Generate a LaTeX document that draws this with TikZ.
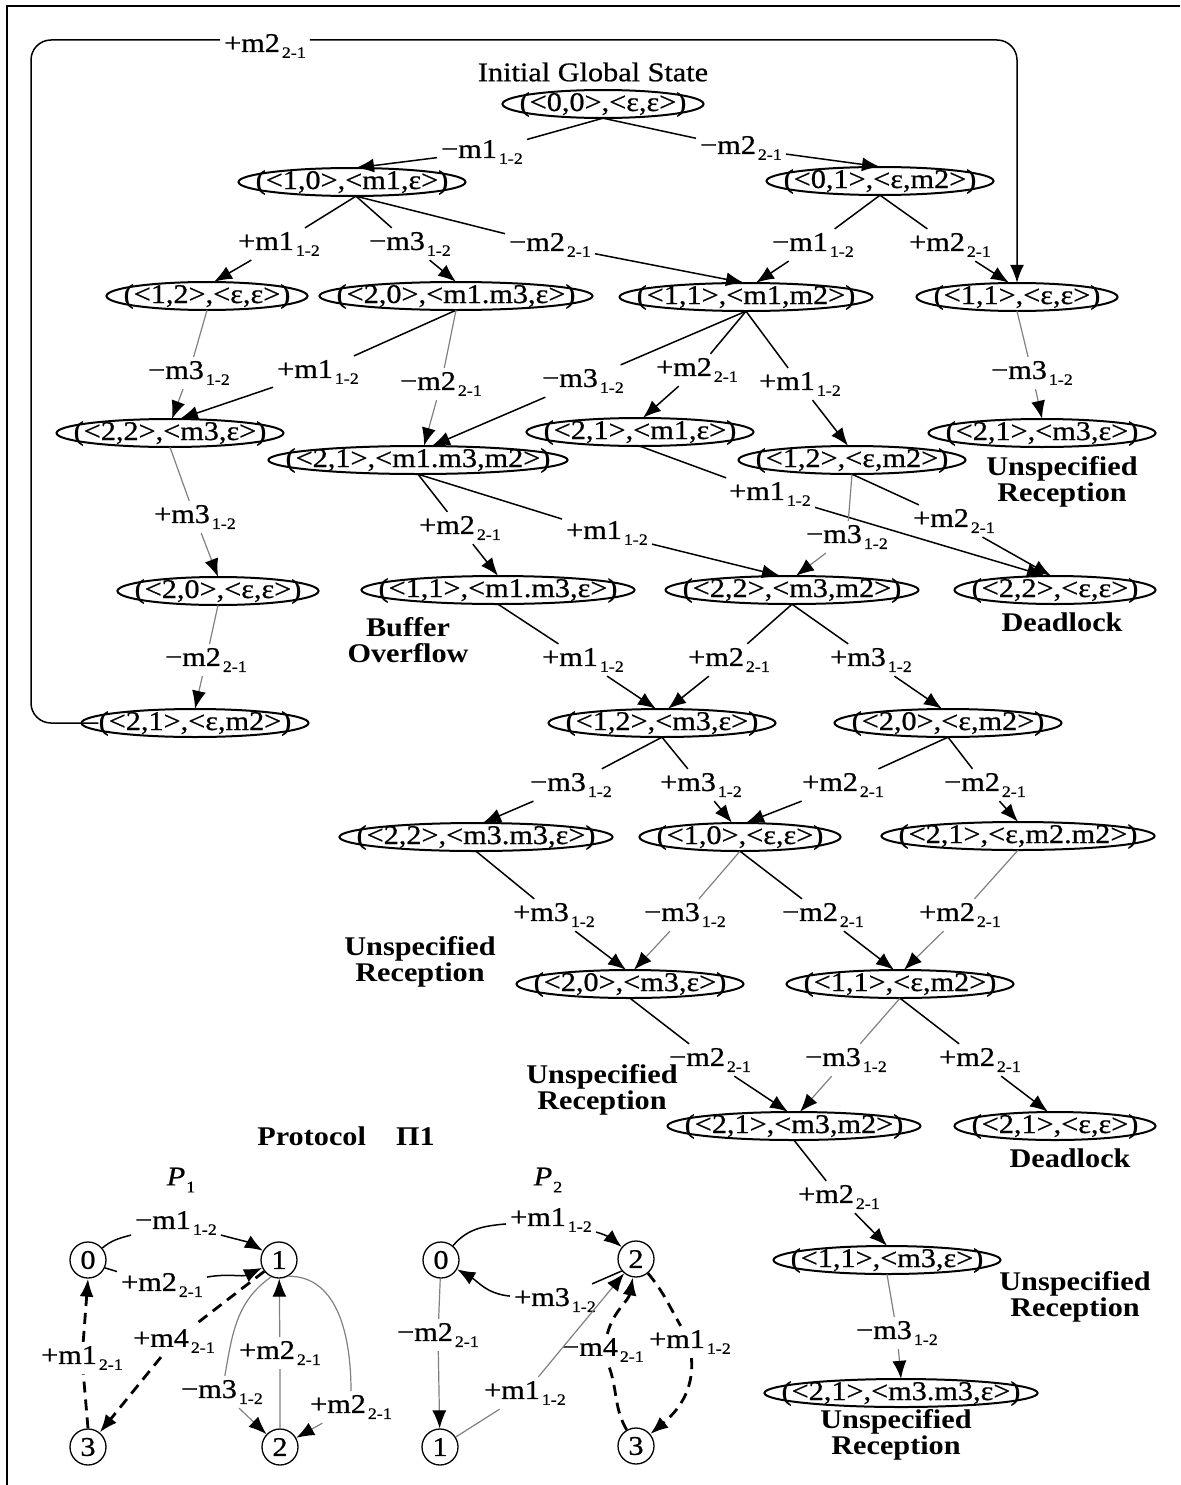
\documentclass[tikz,border=0pt]{standalone}
\usepackage{fontspec}
\setmainfont{Liberation Serif}[FakeStretch=1.12]
\newfontfamily\gfam{Liberation Serif}[FakeStretch=1.12, FakeBold=0.7]
\usetikzlibrary{arrows.meta,calc}

% fonts
\newcommand\gf{\gfam\fontsize{27}{30}\selectfont}
\newcommand\lbl[2]{#1\kern2pt\raisebox{-6pt}{\fontsize{16}{16}\selectfont #2}}
% a global state: text with a flat ellipse around it
\newcommand\gnode[3]{%
  \node[gs] (#1) at (#2) {#3};
  \draw[ell] let \p1=($(#1.east)-(#1.west)$) in (#1.center) ellipse [x radius={0.5*\x1+17pt}, y radius=14pt];}

\tikzset{
  gs/.style={inner sep=0pt, text height=21pt, text depth=7pt, font=\gf},
  ell/.style={line width=2pt},
  lb/.style={inner sep=4pt, font=\gf},
  ann/.style={font=\fontsize{27}{24}\selectfont\bfseries, align=center, inner sep=0pt},
  tip/.style={-{Latex[length=18pt,width=14pt]}},
  tipk/.style={-{Latex[length=18pt,width=14pt,color=black]}},
  e/.style={tip, line width=1.5pt},
  ef/.style={tipk, line width=1.2pt, draw=black!50},
  de/.style={-{Latex[length=18pt,width=14pt]}, line width=2.8pt, dash pattern=on 11pt off 7pt},
  st/.style={circle, draw, line width=1.3pt, minimum size=36pt, inner sep=0pt, font=\gf},
  frame/.style={line width=1.8pt},
}

\begin{document}
\begin{tikzpicture}[x=1pt, y=-1pt]
\useasboundingbox (0,0) rectangle (1180,1485);
\draw[frame] (1180,6) -- (7,6) -- (7,1485);

% ---------------- reachability tree ----------------
\node[font=\gf] (init) at (593,72) {Initial Global State};
\gnode{n00}{603,104}{(<0,0>,<ε,ε>)}
\gnode{n10}{352,182}{(<1,0>,<m1,ε>)}
\gnode{n01}{880,181}{(<0,1>,<ε,m2>)}
\gnode{n12a}{207,296}{(<1,2>,<ε,ε>)}
\gnode{n20a}{456,296}{(<2,0>,<m1.m3,ε>)}
\gnode{n11b}{746,297}{(<1,1>,<m1,m2>)}
\gnode{n11c}{1017,297}{(<1,1>,<ε,ε>)}
\gnode{n22a}{170,433}{(<2,2>,<m3,ε>)}
\gnode{n21a}{418,460}{(<2,1>,<m1.m3,m2>)}
\gnode{n21c}{640,432}{(<2,1>,<m1,ε>)}
\gnode{n12c}{852,460}{(<1,2>,<ε,m2>)}
\gnode{n21d}{1042,433}{(<2,1>,<m3,ε>)}
\gnode{n20b}{218,591}{(<2,0>,<ε,ε>)}
\gnode{n11d}{498,590}{(<1,1>,<m1.m3,ε>)}
\gnode{n22b}{792,590}{(<2,2>,<m3,m2>)}
\gnode{n22c}{1055,590}{(<2,2>,<ε,ε>)}
\gnode{n21b}{195,723}{(<2,1>,<ε,m2>)}
\gnode{n12b}{662,723}{(<1,2>,<m3,ε>)}
\gnode{n20c}{948,723}{(<2,0>,<ε,m2>)}
\gnode{n22d}{476,837}{(<2,2>,<m3.m3,ε>)}
\gnode{n10b}{740,837}{(<1,0>,<ε,ε>)}
\gnode{n21e}{1018,836}{(<2,1>,<ε,m2.m2>)}
\gnode{n20d}{630,984}{(<2,0>,<m3,ε>)}
\gnode{n11e}{900,984}{(<1,1>,<ε,m2>)}
\gnode{n21f}{794,1126}{(<2,1>,<m3,m2>)}
\gnode{n21g}{1055,1126}{(<2,1>,<ε,ε>)}
\gnode{n11f}{887,1260}{(<1,1>,<m3,ε>)}
\gnode{n21h}{901,1393}{(<2,1>,<m3.m3,ε>)}

% transition labels
\node[lb] (L1) at (482,152) {\lbl{−m1}{1-2}};
\node[lb] (L2) at (741,148) {\lbl{−m2}{2-1}};
\node[lb] (L3) at (279,244) {\lbl{+m1}{1-2}};
\node[lb] (L4) at (410,244) {\lbl{−m3}{1-2}};
\node[lb] (L5) at (550,245) {\lbl{−m2}{2-1}};
\node[lb] (L6) at (813,245) {\lbl{−m1}{1-2}};
\node[lb] (L7) at (950,245) {\lbl{+m2}{2-1}};
\node[lb] (L8) at (189,373) {\lbl{−m3}{1-2}};
\node[lb] (L9) at (318,372) {\lbl{+m1}{1-2}};
\node[lb] (L10) at (441,384) {\lbl{−m2}{2-1}};
\node[lb] (L11) at (583,381) {\lbl{−m3}{1-2}};
\node[lb] (L12) at (697,370) {\lbl{+m2}{2-1}};
\node[lb] (L13) at (800,384) {\lbl{+m1}{1-2}};
\node[lb] (L14) at (1032,373) {\lbl{−m3}{1-2}};
\node[lb] (L15) at (195,517) {\lbl{+m3}{1-2}};
\node[lb] (L16) at (460,528) {\lbl{+m2}{2-1}};
\node[lb] (L17) at (607,533) {\lbl{+m1}{1-2}};
\node[lb] (L18) at (770,494) {\lbl{+m1}{1-2}};
\node[lb] (L19) at (847,537) {\lbl{−m3}{1-2}};
\node[lb] (L20) at (954,521) {\lbl{+m2}{2-1}};
\node[lb] (L21) at (206,660) {\lbl{−m2}{2-1}};
\node[lb] (L22) at (583,660) {\lbl{+m1}{1-2}};
\node[lb] (L23) at (729,660) {\lbl{+m2}{2-1}};
\node[lb] (L24) at (871,660) {\lbl{+m3}{1-2}};
\node[lb] (L25) at (571,785) {\lbl{−m3}{1-2}};
\node[lb] (L26) at (701,785) {\lbl{+m3}{1-2}};
\node[lb] (L27) at (843,785) {\lbl{+m2}{2-1}};
\node[lb] (L28) at (985,785) {\lbl{−m2}{2-1}};
\node[lb] (L29) at (554,915) {\lbl{+m3}{1-2}};
\node[lb] (L30) at (685,915) {\lbl{−m3}{1-2}};
\node[lb] (L31) at (823,915) {\lbl{−m2}{2-1}};
\node[lb] (L32) at (960,915) {\lbl{+m2}{2-1}};
\node[lb] (L33) at (710,1060) {\lbl{−m2}{2-1}};
\node[lb] (L34) at (846,1060) {\lbl{−m3}{1-2}};
\node[lb] (L35) at (980,1060) {\lbl{+m2}{2-1}};
\node[lb] (L36) at (839,1197) {\lbl{+m2}{2-1}};
\node[lb] (L37) at (897,1333) {\lbl{−m3}{1-2}};
\node[lb] (LT) at (265,46) {\lbl{+m2}{2-1}};

% outcome notes
\node[ann] (ur1) at (1062,482) {Unspecified\\Reception};
\node[ann] (dl1) at (1062,622) {Deadlock};
\node[ann, font=\fontsize{27}{26}\selectfont\bfseries] (bo) at (408,640) {Buffer\\Overflow};
\node[ann] (ur2) at (420,962) {Unspecified\\Reception};
\node[ann] (ur3) at (602,1090) {Unspecified\\Reception};
\node[ann] (dl2) at (1070,1158) {Deadlock};
\node[ann] (ur4) at (1075,1297) {Unspecified\\Reception};
\node[ann] (ur5) at (896,1435) {Unspecified\\Reception};

% transitions
\draw[e] (n00.south) -- (L1) -- ([xshift=4pt]n10.north);
\draw[e] (n00.south) -- (L2) -- (n01.north);
\draw[e] ([xshift=4pt]n10.south) -- (L3) -- ([xshift=7pt]n12a.north);
\draw[e] ([xshift=4pt]n10.south) -- (L4) -- (n20a.north);
\draw[e] ([xshift=4pt]n10.south) -- (L5) -- ([xshift=-2pt]n11b.north);
\draw[e] (n01.south) -- (L6) -- ([xshift=10pt]n11b.north);
\draw[e] (n01.south) -- (L7) -- ([xshift=-8pt]n11c.north);
\draw[ef] (n12a.south) -- (L8) -- ([xshift=2pt]n22a.north);
\draw[e] (n20a.south) -- (L9) -- ([xshift=10pt]n22a.north);
\draw[ef] (n20a.south) -- (L10) -- ([xshift=6pt]n21a.north);
\draw[e] (n11b.south) -- (L11) -- ([xshift=14pt]n21a.north);
\draw[e] (n11b.south) -- (L12) -- ([xshift=3pt]n21c.north);
\draw[e] (n11b.south) -- (L13) -- ([xshift=-4pt]n12c.north);
\draw[ef] (n11c.south) -- (L14) -- (n21d.north);
\draw[ef] (n22a.south) -- (L15) -- (n20b.north);
\draw[e] (n21a.south) -- (L16) -- (n11d.north);
\draw[e] (n21a.south) -- (L17) -- ([xshift=-12pt]n22b.north);
\draw[e] (n21c.south) -- (L18) -- ([xshift=-10pt]n22c.north);
\draw[ef] (n12c.south) -- (L19) -- ([xshift=4pt]n22b.north);
\draw[e] (n12c.south) -- (L20) -- ([xshift=-4pt]n22c.north);
\draw[ef] (n20b.south) -- (L21) -- (n21b.north);
\draw[e] (n11d.south) -- (L22) -- ([xshift=-6pt]n12b.north);
\draw[e] (n22b.south) -- (L23) -- ([xshift=6pt]n12b.north);
\draw[e] (n22b.south) -- (L24) -- ([xshift=-6pt]n20c.north);
\draw[e] (n12b.south) -- (L25) -- ([xshift=7pt]n22d.north);
\draw[e] (n12b.south) -- (L26) -- ([xshift=-8pt]n10b.north);
\draw[e] (n20c.south) -- (L27) -- ([xshift=6pt]n10b.north);
\draw[e] (n20c.south) -- (L28) -- (n21e.north);
\draw[e] (n22d.south) -- (L29) -- ([xshift=-4pt]n20d.north);
\draw[ef] (n10b.south) -- (L30) -- ([xshift=4pt]n20d.north);
\draw[e] (n10b.south) -- (L31) -- ([xshift=-6pt]n11e.north);
\draw[ef] (n21e.south) -- (L32) -- ([xshift=4pt]n11e.north);
\draw[e] (n20d.south) -- (L33) -- ([xshift=-6pt]n21f.north);
\draw[ef] (n11e.south) -- (L34) -- ([xshift=6pt]n21f.north);
\draw[e] (n11e.south) -- (L35) -- ([xshift=-7pt]n21g.north);
\draw[e] (n21f.south) -- (L36) -- (n11f.north);
\draw[ef] (n11f.south) -- (L37) -- (n21h.north);

% long loop back to <1,1>,<e,e>
\coordinate (topy) at (0,40);
\draw[e, rounded corners=20pt] (n21b.west) -- (31,723) -- (31,40) -- (LT.west |- topy)
  (LT.east |- topy) -- (1017,40) -- (n11c.north);

% ---------------- protocol ----------------
\node[ann] (proto) at (346,1136) {Protocol\hspace{30pt}Π1};
\node[font=\gf] (p1t) at (181,1180) {\textit{P}\kern1pt\raisebox{-7pt}{\fontsize{16}{16}\selectfont 1}};
\node[font=\gf] (p2t) at (548,1180) {\textit{P}\kern1pt\raisebox{-7pt}{\fontsize{16}{16}\selectfont 2}};

\node[st] (s0) at (88,1260) {0};
\node[st] (s1) at (279,1260) {1};
\node[st] (s3) at (88,1447) {3};
\node[st] (s2) at (280,1447) {2};

\node[lb] (P1a) at (176,1223) {\lbl{−m1}{1-2}};
\node[lb] (P1b) at (162,1285) {\lbl{+m2}{2-1}};
\node[lb] (P1c) at (174,1341) {\lbl{+m4}{2-1}};
\node[lb] (P1d) at (82,1358) {\lbl{+m1}{2-1}};
\node[lb] (P1e) at (280,1353) {\lbl{+m2}{2-1}};
\node[lb] (P1g) at (222,1392) {\lbl{−m3}{1-2}};
\node[lb] (P1f) at (351,1407) {\lbl{+m2}{2-1}};

\draw[e] (s0) to[out=40,in=195] (P1a) to[out=-15,in=150] (s1);
\draw[e] (s0.-25) -- (P1b) to[out=10,in=205] (s1);
\draw[de] (s1) -- (P1c) -- (s3);
\draw[de] (s3.north) -- (P1d) -- (s0.south);
\draw[ef] (s2) -- (P1e) -- (s1);
\draw[ef] (s1.-115) to[out=215,in=80] (P1g) -- (s2);
\draw[ef] (s1.-60) to[out=0,in=90] (P1f) -- (s2);

\node[st] (t0) at (441,1260) {0};
\node[st] (t2) at (636,1259) {2};
\node[st] (t1) at (440,1447) {1};
\node[st] (t3) at (636,1446) {3};

\node[lb] (P2a) at (551,1220) {\lbl{+m1}{1-2}};
\node[lb] (P2b) at (555,1300) {\lbl{+m3}{1-2}};
\node[lb] (P2c) at (438,1335) {\lbl{−m2}{2-1}};
\node[lb] (P2d) at (525,1393) {\lbl{+m1}{1-2}};
\node[lb] (P2e) at (603,1350) {\lbl{−m4}{2-1}};
\node[lb] (P2f) at (690,1342) {\lbl{+m1}{1-2}};

\draw[e] (t0) to[out=50,in=185] (P2a) to[out=-15,in=140] (t2);
\draw[e] (t2.220) -- (P2b) to[out=175,in=-30] (t0);
\draw[ef] (t0) -- (P2c) -- (t1);
\draw[ef] (t1) -- (P2d) -- (t2);
\draw[de] (t3) to[out=120,in=-70] (P2e) to[out=75,in=-100] (t2);
\draw[de] (t2) to[out=-50,in=120] (P2f) to[out=-85,in=40] (t3);
\end{tikzpicture}
\end{document}
